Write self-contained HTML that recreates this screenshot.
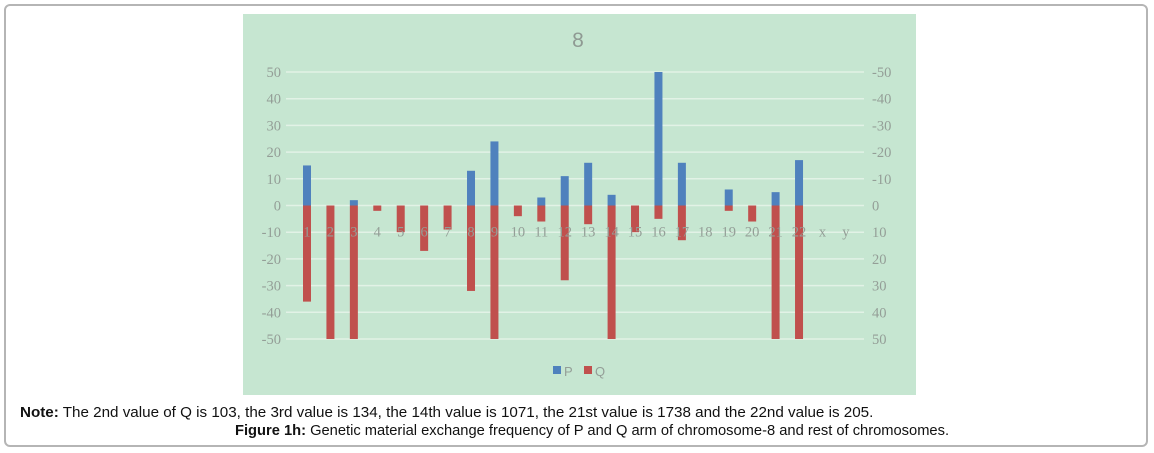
<!DOCTYPE html>
<html><head><meta charset="utf-8"><style>
body{margin:0;width:1154px;height:453px;background:#fff;overflow:hidden;font-family:"Liberation Sans",Arial,sans-serif}
#frame{position:absolute;left:4px;top:4px;width:1144px;height:443px;border:2px solid #b5b5b5;border-radius:6px;box-sizing:border-box}
.txt{position:absolute;color:#111;white-space:nowrap}
</style></head><body>
<div id="frame"></div>
<svg id="chart" width="1154" height="453" style="position:absolute;left:0;top:0"></svg>
<div class="txt" style="left:20px;top:404px;font-size:15.2px"><b>Note:</b> The 2nd value of Q is 103, the 3rd value is 134, the 14th value is 1071, the 21st value is 1738 and the 22nd value is 205.</div>
<div class="txt" style="left:235px;top:423px;font-size:14.7px"><b>Figure 1h:</b> Genetic material exchange frequency of P and Q arm of chromosome-8 and rest of chromosomes.</div>
<script>
const categories=["1","2","3","4","5","6","7","8","9","10","11","12","13","14","15","16","17","18","19","20","21","22","x","y"];
const pValues=[15,0,2,0,0,0,0,13,24,0,3,11,16,4,0,50,16,0,6,0,5,17,0,0];
const qValues=[-36,-50,-50,-2,-10,-17,-9,-32,-50,-4,-6,-28,-7,-50,-10,-5,-13,0,-2,-6,-50,-50,0,0];
const leftTicks=[50,40,30,20,10,0,-10,-20,-30,-40,-50];
const rightTickLabels=["-50","-40","-30","-20","-10","0","10","20","30","40","50"];
const NS="http://www.w3.org/2000/svg";
const svg=document.getElementById('chart');
function mk(t,a,p){const e=document.createElementNS(NS,t);for(const k in a)e.setAttribute(k,a[k]);(p||svg).appendChild(e);return e;}
const x0=307,step=23.43,yTop=72,yBot=339,vMax=50,vMin=-50;
const xS=i=>x0+i*step;
const yS=v=>yTop+(vMax-v)/(vMax-vMin)*(yBot-yTop);
const bg=mk('rect',{x:243,y:14,width:673,height:381,fill:'#c6e6d1'});


const title=mk('text',{x:578,y:47,'font-size':21,fill:'#8f9a93','text-anchor':'middle','font-family':'Liberation Sans, sans-serif'});
title.textContent='8';


leftTicks.forEach((v,i)=>{
  const y=yS(v);
  const g=mk('line',{x1:286,x2:864,y1:y,y2:y,stroke:'#e2f2e6','stroke-width':1.5});
  
  
  const l=mk('text',{x:281,y:y+5,'font-size':14.5,fill:'#949e97','text-anchor':'end','font-family':'Liberation Serif, serif'});
  l.textContent=v;
  
  
  const r=mk('text',{x:872,y:y+5,'font-size':14.5,fill:'#949e97','font-family':'Liberation Serif, serif'});
  r.textContent=rightTickLabels[i];
  
  
});
categories.forEach((c,i)=>{
  const cx=xS(i);
  if(qValues[i]!==0){
    const b=mk('rect',{x:cx-4,y:yS(0),width:8,height:yS(qValues[i])-yS(0),fill:'#c0504d'});
    
    
  }
  if(pValues[i]!==0){
    const b=mk('rect',{x:cx-4,y:yS(pValues[i]),width:8,height:yS(0)-yS(pValues[i]),fill:'#4f81bd'});
    
    
  }
  const t=mk('text',{x:cx,y:yS(0)+31,'font-size':14.5,fill:'#949e97','text-anchor':'middle','font-family':'Liberation Serif, serif'});
  t.textContent=c;
  
  
});
const lg=[['P','#4f81bd',553],['Q','#c0504d',584]];
lg.forEach(([n,col,x])=>{
  const s=mk('rect',{x:x,y:366,width:8,height:8,fill:col});
  
  
  const t=mk('text',{x:x+11,y:376,'font-size':13,fill:'#949e97','font-family':'Liberation Sans, sans-serif'});
  t.textContent=n;
  
  
});
</script>
</body></html>
